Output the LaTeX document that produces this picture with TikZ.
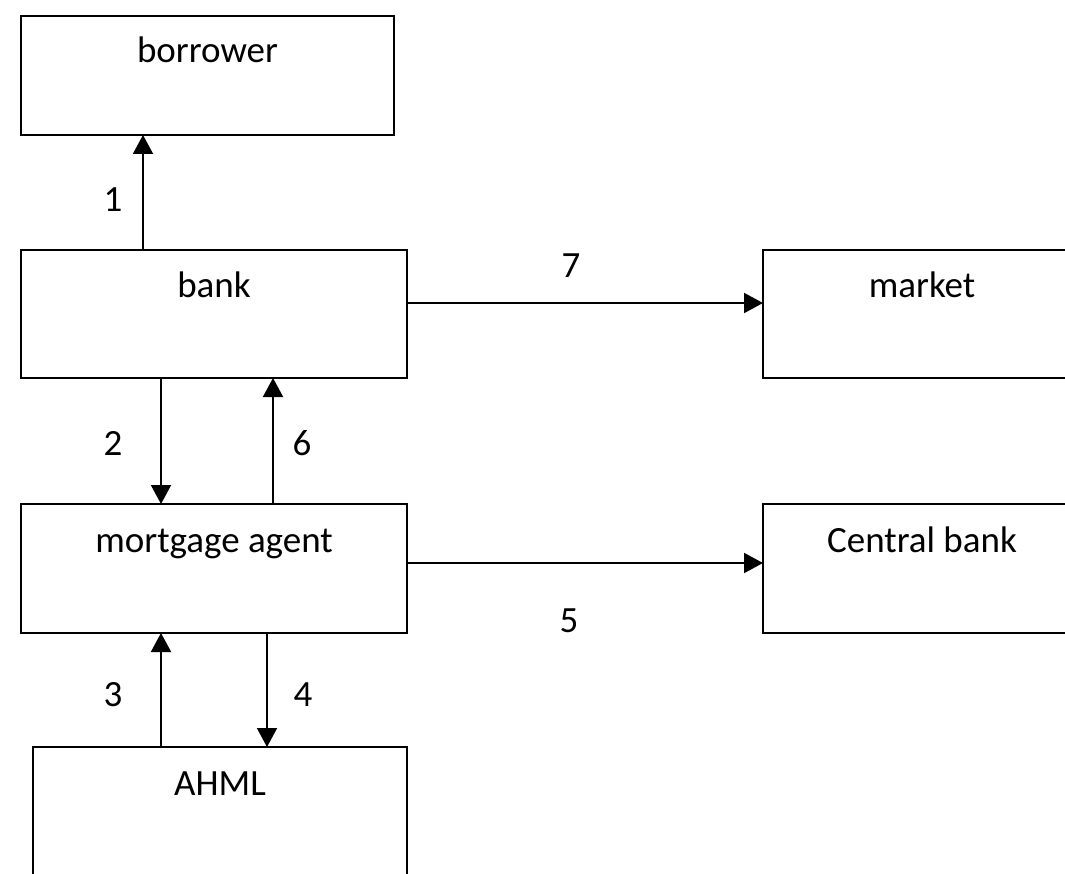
\documentclass[tikz,border=0pt]{standalone}
\usepackage{fontspec}
\setmainfont{Carlito}
\usetikzlibrary{arrows.meta}
\begin{document}
\begin{tikzpicture}[x=1pt,y=-1pt,
  box/.style={draw=black, line width=2pt, rectangle, inner sep=0pt, anchor=north west, fill=white},
  txt/.style={anchor=base, inner sep=0pt, font=\fontsize{37}{44}\selectfont},
  arr/.style={draw=black, line width=2pt, -{Triangle[length=19pt,width=20pt]}, shorten >=-1pt}
]
\useasboundingbox (0,0) rectangle (1065,874);
\fill[white] (0,0) rectangle (1065,874);
\clip (0,0) rectangle (1065,874);

% boxes
\node[box, minimum width=373pt, minimum height=119pt] (borrower) at (20,15) {};
\node[box, minimum width=386pt, minimum height=128pt] (bank) at (20,249) {};
\node[box, minimum width=386pt, minimum height=129pt] (agent) at (20,503) {};
\node[box, minimum width=374pt, minimum height=200pt] (ahml) at (32,746) {};
\node[box, minimum width=318pt, minimum height=128pt] (market) at (762,249) {};
\node[box, minimum width=318pt, minimum height=129pt] (central) at (762,503) {};

% box texts
\node[txt] (tborrower) at ([yshift=-48pt]borrower.north) {borrower};
\node[txt] (tbank) at ([yshift=-49pt]bank.north) {bank};
\node[txt] (tagent) at ([yshift=-49pt]agent.north) {mortgage agent};
\node[txt] (tahml) at ([yshift=-49pt]ahml.north) {AHML};
\node[txt] (tmarket) at ([yshift=-49pt]market.north) {market};
\node[txt] (tcentral) at ([yshift=-49pt]central.north) {Central bank};

% column / row helpers
\coordinate (c1) at (143,0);
\coordinate (c2) at (161,0);
\coordinate (c6) at (273,0);
\coordinate (c4) at (267,0);
\coordinate (r7) at (0,303);
\coordinate (r5) at (0,563);

% connectors
\draw[arr] (bank.north -| c1) -- (borrower.south -| c1);
\draw[arr] (bank.south -| c2) -- (agent.north -| c2);
\draw[arr] (agent.north -| c6) -- (bank.south -| c6);
\draw[arr] (ahml.north -| c2) -- (agent.south -| c2);
\draw[arr] (agent.south -| c4) -- (ahml.north -| c4);
\draw[arr] (bank.east |- r7) -- (market.west |- r7);
\draw[arr] (agent.east |- r5) -- (central.west |- r5);

% labels
\node[txt] (l1) at (113,212) {1};
\node[txt] (l2) at (113,455) {2};
\node[txt] (l6) at (302,455) {6};
\node[txt] (l3) at (113,706) {3};
\node[txt] (l4) at (303,706) {4};
\node[txt] (l7) at (571,278) {7};
\node[txt] (l5) at (569,632) {5};
\end{tikzpicture}
\end{document}
